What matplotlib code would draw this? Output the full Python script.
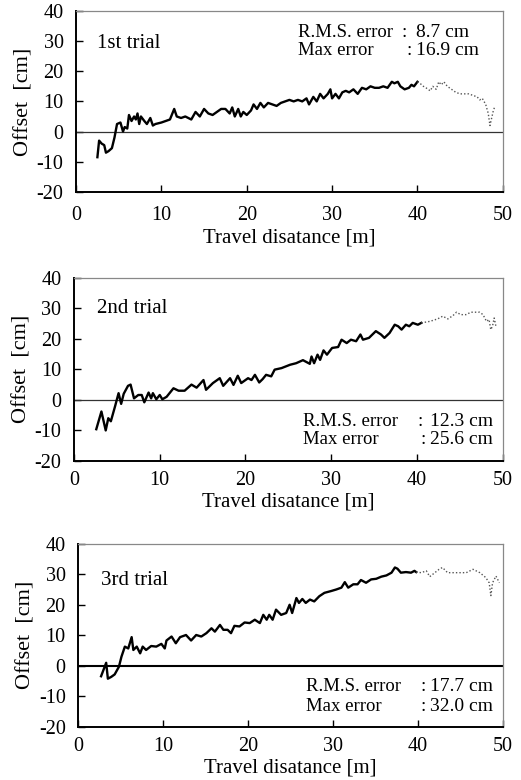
import matplotlib
matplotlib.use("Agg")
import matplotlib.pyplot as plt

plt.rcParams['font.family'] = ['Liberation Serif', 'DejaVu Serif']

# ---------------- data ----------------
t1_x = [2.5,2.7,3.0,3.3,3.5,3.8,4.2,4.5,4.8,5.2,5.5,5.7,6.0,6.2,6.5,6.8,7.0,7.2,7.4,7.6,8.0,8.3,8.7,9.0,9.3,10.0,10.5,11.0,11.5,11.8,12.3,12.8,13.5,14.0,14.5,15.0,15.5,16.0,16.5,17.0,17.5,18.0,18.3,18.6,19.0,19.3,19.6,20.0,20.5,20.8,21.2,21.6,22.0,22.5,23.0,23.5,24.0,24.5,25.0,25.5,26.0,26.5,27.0,27.3,27.8,28.2,28.6,29.0,29.5,29.8,30.0,30.4,30.8,31.2,31.6,32.0,32.5,33.0,33.5,34.0,34.5,35.0,35.5,36.0,36.5,37.0,37.3,37.7,38.0,38.5,39.0,39.3,39.6,40.0]
t1_y = [-8.5,-3,-4,-4.5,-7,-6.5,-5.5,-2,2.5,3,0,1.5,1,5.5,3.5,5,4,6,2.5,5,3.5,2.5,4.5,2,2.5,3,3.5,4,7.5,5,4.5,5,4,6.5,5,7.5,6,5.5,6.5,7.5,7.5,6,8,5,7.5,5,6.5,5.5,7,9,7.5,9.5,8,9.5,9,8.5,9.5,10,10.5,10,10.5,10,11,9,11.5,10,12.5,11,12.5,14,11,12.5,11,13,13.5,13,14,12.5,14.5,14,15,14.5,14.5,15,14.5,16.5,16,16.5,15,14,14.5,15.5,15,16.5]
t1_dx = [40.0,40.3,40.7,41.0,41.5,41.8,42.2,42.5,42.8,43.1,43.5,44.0,44.5,45.0,45.5,46.0,46.5,47.0,47.3,47.6,48.0,48.3,48.5,48.7,48.9,49.1]
t1_dy = [16.5,16,15,14.5,13.5,15,14,16.5,15.5,16.5,15,14,13,12.5,12.5,12.5,12,11.5,10.5,11,9,6,2,4.5,7,8.5]

t2_x = [2.6,3.2,3.7,4.0,4.3,4.8,5.2,5.5,5.8,6.3,6.6,7.0,7.5,7.9,8.2,8.7,9.0,9.2,9.6,10.0,10.3,10.8,11.6,12.2,12.9,13.7,14.3,15.1,15.4,16.2,17.0,17.4,18.2,18.6,19.1,19.5,20.3,20.7,21.1,21.6,22.0,22.4,23.0,23.4,24.2,25.2,25.9,26.7,27.5,27.7,28.0,28.4,28.7,29.1,29.5,30.1,30.8,31.2,31.8,32.3,32.9,33.4,33.7,34.4,35.2,35.8,36.2,36.8,37.4,37.8,38.2,38.7,39.1,39.5,40.1,40.5]
t2_y = [-9.6,-3.8,-10,-6,-7,-2,2.2,-1.3,2,4.6,5,0.5,1.6,1.6,-0.8,2.4,0.5,2.2,0.2,1.6,0.2,1,3.8,3,3,5,4,6.5,3.3,5.5,7.1,4.6,7.1,4.9,7.9,5.5,7.1,6.5,8.2,5.7,6.8,8.2,7.7,9.9,10.4,11.5,12,13,11.8,14.2,12,14.8,13.1,16.2,14.8,17,17.3,19.7,18.6,19.7,19.2,21.4,19.7,20.3,22.5,21.4,20.3,21.9,24.6,24.1,23,24.6,24.1,25.2,24.6,25.2]
t2_dx = [40.5,41.5,42.4,43.0,43.6,44.2,44.6,45.1,45.7,46.3,47.3,47.7,48.1,48.4,48.6,48.8,49.0,49.2]
t2_dy = [25.2,25.7,26.5,27.4,26.5,27.6,28.7,27.9,27.9,28.7,28.7,27.9,25.7,26.3,23,24.1,26.8,24.1]

t3_x = [2.7,3.3,3.5,3.9,4.3,4.8,5.1,5.5,5.9,6.3,6.5,6.9,7.3,7.6,8.0,8.6,9.2,9.8,10.2,10.4,11.0,11.5,12.0,12.7,13.3,13.9,14.5,15.1,15.7,16.1,16.7,17.1,17.6,18.0,18.4,19.0,19.6,20.2,20.8,21.4,21.8,22.2,22.5,22.9,23.3,23.9,24.5,24.9,25.2,25.7,26.0,26.4,26.8,27.3,27.8,28.4,29.0,29.8,30.4,31.0,31.4,31.8,32.4,32.9,33.3,33.9,34.5,35.1,35.7,36.3,36.9,37.3,37.6,38.0,38.6,39.2,39.6,39.8]
t3_y = [-3.4,1.0,-4.2,-3.6,-2.8,-0.3,3,6.3,5.7,9.4,5.2,6.3,4.1,6.3,5.2,6.5,6.3,7.2,5.7,8.3,9.6,7.4,9.4,10.1,8.3,10.1,9.6,10.7,12.3,11.2,13.4,11.8,11.8,10.7,13.1,12.9,14.2,14.0,15.1,14.0,16.7,15.1,16.7,15.1,18.4,16.7,17.3,20.0,17.3,22.2,20.6,21.9,20.6,21.7,21.1,22.8,23.9,24.5,25.0,25.6,27.4,25.6,26.7,26.7,28.1,27.2,28.3,28.5,29.2,29.6,30.5,32.2,31.8,30.5,30.7,30.5,31.1,30.7]
t3_dx = [39.8,40.4,41.0,41.4,42.0,42.5,42.9,43.5,44.5,45.7,46.5,47.3,48.0,48.4,48.6,48.8,49.2,49.6]
t3_dy = [30.7,30.5,31.1,29.2,30.5,31.6,32.2,30.5,30.5,30.5,31.6,30.5,28.9,27.2,23.0,27.2,29.4,27.2]

trial_labels = ["1st trial", "2nd trial", "3rd trial"]
rms_values = ["8.7 cm", "12.3 cm", "17.7 cm"]
max_values = ["16.9 cm", "25.6 cm", "32.0 cm"]

x_ticks = [0, 10, 20, 30, 40, 50]
y_ticks = [-20, -10, 0, 10, 20, 30, 40]

# ---------------- figure ----------------
fig = plt.figure(figsize=(5.21, 7.80), dpi=100)

panels = [
    dict(rect=[0.146, 0.754, 0.819, 0.232], sx=t1_x, sy=t1_y, dx=t1_dx, dy=t1_dy, xpad=10, lpad=3,
         lab_pos=(0.05, 0.82), txt_left=0.52, y1=0.88, y2=0.78, c1=0.763, c2=0.774, vx=0.796, zlw=0.9),
    dict(rect=[0.142, 0.409, 0.823, 0.235], sx=t2_x, sy=t2_y, dx=t2_dx, dy=t2_dy, xpad=7, lpad=2,
         lab_pos=(0.054, 0.83), txt_left=0.534, y1=0.213, y2=0.115, c1=0.800, c2=0.807, vx=0.83, zlw=0.9),
    dict(rect=[0.150, 0.068, 0.815, 0.235], sx=t3_x, sy=t3_y, dx=t3_dx, dy=t3_dy, xpad=7, lpad=2,
         lab_pos=(0.054, 0.80), txt_left=0.536, y1=0.22, y2=0.11, c1=0.807, c2=0.807, vx=0.828, zlw=1.5),
]

FS_TICK = 14.5
FS_ANN = 13.5

for i, p in enumerate(panels):
    ax = fig.add_axes(p['rect'])
    ax.plot(p['sx'], p['sy'], color='black', lw=1.7, solid_joinstyle='round', zorder=3)
    ax.plot(p['dx'], p['dy'], color='#555555', lw=1.0, ls=(0, (1, 1.5)), zorder=3)
    ax.axhline(0, color='#333333' if p['zlw'] < 1 else 'black', lw=p['zlw'], zorder=2)
    ax.set_xlim(0, 50)
    ax.set_ylim(-20, 40)
    ax.set_xticks(x_ticks)
    ax.set_yticks(y_ticks)
    ax.set_xticklabels([str(v) for v in x_ticks])
    ax.set_yticklabels([str(v) for v in y_ticks])
    ax.tick_params(axis='both', direction='in', length=5, width=1.0, labelsize=FS_TICK, color='black')
    ax.tick_params(axis='x', pad=p['xpad'])
    ax.tick_params(axis='y', pad=9)
    for s in ['left', 'bottom']:
        ax.spines[s].set_color('black')
        ax.spines[s].set_linewidth(1.4)
    for s in ['top', 'right']:
        ax.spines[s].set_color('#888888')
        ax.spines[s].set_linewidth(0.9)
    ax.set_xlabel("Travel disatance [m]", fontsize=15, labelpad=p['lpad'])
    ax.set_ylabel("Offset  [cm]", fontsize=16, labelpad=2)
    ax.text(p['lab_pos'][0], p['lab_pos'][1], trial_labels[i], transform=ax.transAxes,
            fontsize=15, va='center', ha='left')
    ax.text(p['txt_left'], p['y1'], "R.M.S. error", transform=ax.transAxes, fontsize=FS_ANN, va='center', ha='left')
    ax.text(p['c1'], p['y1'], ":", transform=ax.transAxes, fontsize=FS_ANN, va='center', ha='left')
    ax.text(p['vx'], p['y1'], rms_values[i], transform=ax.transAxes, fontsize=FS_ANN + 0.5, va='center', ha='left')
    ax.text(p['txt_left'], p['y2'], "Max error", transform=ax.transAxes, fontsize=FS_ANN, va='center', ha='left')
    ax.text(p['c2'], p['y2'], ":", transform=ax.transAxes, fontsize=FS_ANN, va='center', ha='left')
    ax.text(p['vx'], p['y2'], max_values[i], transform=ax.transAxes, fontsize=FS_ANN + 0.5, va='center', ha='left')

fig.savefig("out.png", dpi=100)
